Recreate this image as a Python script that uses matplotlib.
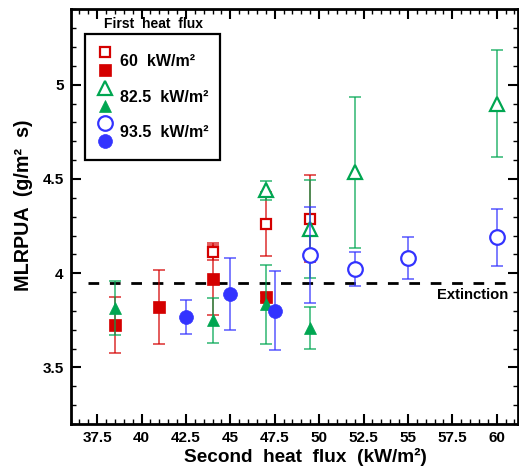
import matplotlib
matplotlib.use("Agg")
import matplotlib.pyplot as plt
from matplotlib.lines import Line2D
from matplotlib.legend_handler import HandlerBase
from matplotlib.ticker import MultipleLocator

plt.rcParams['font.family'] = ['Liberation Sans', 'DejaVu Sans']
plt.rcParams['font.weight'] = 'bold'

# ---- data ----
x60_open = [44, 47, 49.5]
y60_open = [4.11, 4.26, 4.29]
e60_open = [0.04, 0.17, 0.23]

x60_fill = [38.5, 41, 44, 47]
y60_fill = [3.725, 3.82, 3.97, 3.875]
e60_fill = [0.15, 0.195, 0.19, 0.02]

x82_open = [47, 49.5, 52, 60]
y82_open = [4.44, 4.235, 4.535, 4.90]
e82_open = [0.05, 0.26, 0.40, 0.285]

x82_fill = [38.5, 44, 47, 49.5]
y82_fill = [3.815, 3.75, 3.835, 3.71]
e82_fill = [0.145, 0.12, 0.21, 0.11]

x93_open = [49.5, 52, 55, 60]
y93_open = [4.095, 4.02, 4.08, 4.19]
e93_open = [0.255, 0.09, 0.11, 0.15]

x93_fill = [42.5, 45, 47.5]
y93_fill = [3.77, 3.89, 3.80]
e93_fill = [0.09, 0.19, 0.21]

legend_labels = ['60  kW/m²', '82.5  kW/m²', '93.5  kW/m²']
extinction_level = 3.95
extinction_span = [37, 60.8]

RED = '#d40000'
GREEN = '#00a651'
BLUE = '#3333ff'

fig = plt.figure(figsize=(5.19, 4.72), dpi=100)
ax = fig.add_axes([0.136, 0.1017, 0.862, 0.8785])


def eb(x, y, e, color, marker, ms, filled, z):
    ax.errorbar(x, y, yerr=e, fmt='none', ecolor=color, elinewidth=1.2,
                capsize=4.3, capthick=1.2, alpha=0.75, zorder=z)
    ln, = ax.plot(x, y, linestyle='none', marker=marker, markersize=ms,
                  markerfacecolor=color if filled else 'white',
                  markeredgecolor=color, markeredgewidth=1.6 if not filled else 0.5,
                  zorder=z + 1)
    return ln


h60o = eb(x60_open, y60_open, e60_open, RED, 's', 7.2, False, 3)
h60f = eb(x60_fill, y60_fill, e60_fill, RED, 's', 8.0, True, 3)
h82o = eb(x82_open, y82_open, e82_open, GREEN, '^', 9.5, False, 5)
h82f = eb(x82_fill, y82_fill, e82_fill, GREEN, '^', 8.5, True, 5)
h93o = eb(x93_open, y93_open, e93_open, BLUE, 'o', 10.5, False, 7)
h93f = eb(x93_fill, y93_fill, e93_fill, BLUE, 'o', 10.0, True, 7)

ax.plot(extinction_span, [extinction_level, extinction_level], color='black',
        linewidth=2.0, linestyle=(0, (3.85, 3.85)), zorder=2)
ax.text(60.65, 3.885, 'Extinction', ha='right', va='center', fontsize=10.6,
        fontweight='bold')

ax.set_xlim(36, 61.2)
ax.set_ylim(3.2, 5.4)
ax.xaxis.set_minor_locator(MultipleLocator(0.5))
ax.yaxis.set_minor_locator(MultipleLocator(0.1))
ax.set_xticks([37.5, 40, 42.5, 45, 47.5, 50, 52.5, 55, 57.5, 60])
ax.set_xticklabels(['37.5', '40', '42.5', '45', '47.5', '50', '52.5', '55', '57.5', '60'])
ax.set_yticks([3.5, 4, 4.5, 5])
ax.set_yticklabels(['3.5', '4', '4.5', '5'])
ax.tick_params(which='both', direction='in', top=True, right=True)
ax.tick_params(which='major', length=7, width=1.5, labelsize=11, pad=5)
ax.tick_params(which='minor', length=3.6, width=1.0)
for s in ax.spines.values():
    s.set_linewidth(2.0)
for lab in ax.get_xticklabels() + ax.get_yticklabels():
    lab.set_fontweight('bold')

ax.set_xlabel('Second  heat  flux  (kW/m²)', fontsize=13.7, fontweight='bold')
ax.set_ylabel('MLRPUA  (g/m²  s)', fontsize=14.2, fontweight='bold')
ax.xaxis.set_label_coords(0.524, -0.058)
ax.yaxis.set_label_coords(-0.085, 0.528)


class HandlerStack(HandlerBase):
    def create_artists(self, legend, orig_handle, xdescent, ydescent, width,
                       height, fontsize, trans):
        top, bot = orig_handle
        cx = width / 2 - xdescent
        cy = height / 2 - ydescent
        off = 6.5
        a = Line2D([cx], [cy + off])
        a.update_from(top)
        a.set_linestyle('none')
        b = Line2D([cx], [cy - off])
        b.update_from(bot)
        b.set_linestyle('none')
        a.set_transform(trans)
        b.set_transform(trans)
        return [a, b]


leg = ax.legend([(h60o, h60f), (h82o, h82f), (h93o, h93f)], legend_labels,
                handler_map={tuple: HandlerStack()},
                loc='upper left', bbox_to_anchor=(0.032, 0.94),
                borderaxespad=0, fontsize=11.5, handleheight=2.54,
                handlelength=1.0, handletextpad=0.44, labelspacing=0.33,
                borderpad=0.75, fancybox=False, framealpha=1,
                edgecolor='black')
leg.get_frame().set_linewidth(1.6)
for t in leg.get_texts():
    t.set_fontweight('bold')

ax.text(0.186, 0.9646, 'First  heat  flux', transform=ax.transAxes,
        ha='center', va='center', fontsize=10, fontweight='bold')

fig.savefig('out.png', dpi=100)
